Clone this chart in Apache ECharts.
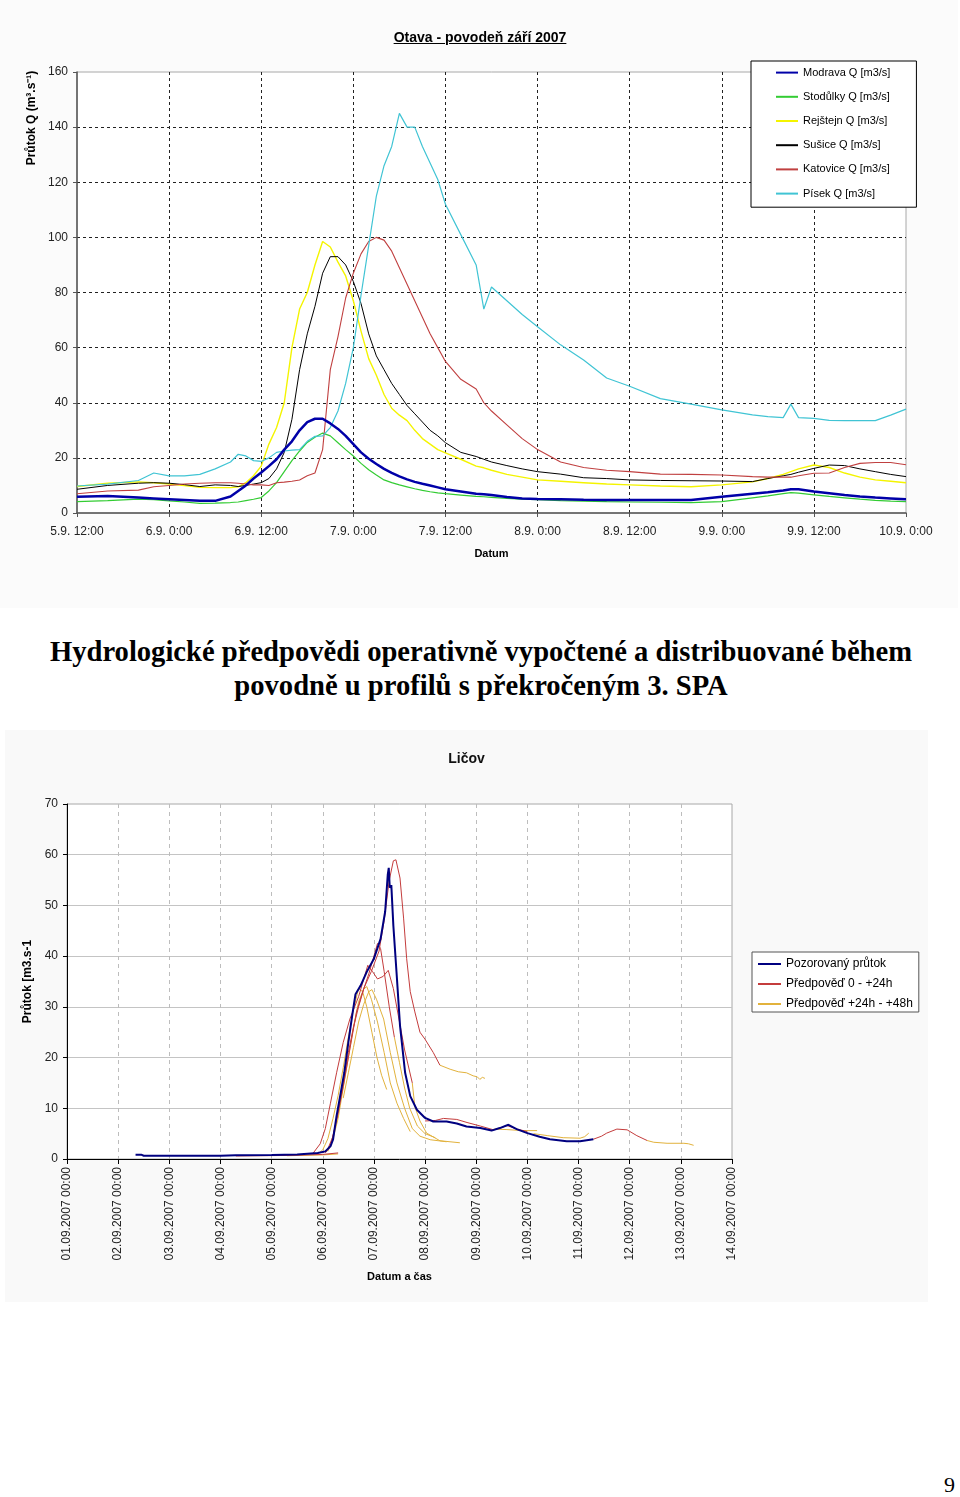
<!DOCTYPE html>
<html><head><meta charset="utf-8">
<script src="https://cdn.jsdelivr.net/npm/echarts@6/dist/echarts.min.js"></script>
<style>
html,body{margin:0;padding:0;background:#fff;width:960px;height:1497px;overflow:hidden;}
#c1{position:absolute;left:0;top:0;width:958px;height:608px;}
#c2{position:absolute;left:5px;top:730px;width:923px;height:572px;}
#t1{position:absolute;left:0;top:29px;width:960px;text-align:center;font:bold 14px Arial,'Liberation Sans',sans-serif;text-decoration:underline;color:#000;}
#head{position:absolute;left:0;top:635px;width:962px;text-align:center;font:bold 28.6px 'Times New Roman','Liberation Serif',serif;line-height:34px;color:#000;}
#pg{position:absolute;left:944px;top:1472px;font:22px 'Times New Roman','Liberation Serif',serif;color:#000;}
</style></head>
<body>
<div id="c1"></div>
<div id="t1">Otava - povodeň září 2007</div>
<div id="head">Hydrologické předpovědi operativně vypočtené a distribuované během<br>povodně u profilů s překročeným 3. SPA</div>
<div id="c2"></div>
<div id="pg">9</div>
<script>
const FONT = "Arial, 'Liberation Sans', sans-serif";

// ---------- Chart 1: Otava (hours from 5.9. 12:00) ----------
const HOURS = [0,4,8,10,12,14,16,18,20,21,22,23,24,25,26,27,28,29,30,31,32,33,34,35,36,37,38,39,40,41,42,43,44,45,46,47,48,50,52,53,54,56,58,60,63,66,69,72,76,80,84,88,90,92,93,94,96,98,100,102,104,106,108];
const X1_LABELS = ['5.9. 12:00','6.9. 0:00','6.9. 12:00','7.9. 0:00','7.9. 12:00','8.9. 0:00','8.9. 12:00','9.9. 0:00','9.9. 12:00','10.9. 0:00'];
const MODRAVA = [5.9,6.2,5.6,5.3,5,4.7,4.4,4.4,6, 8,10,12.5,14.7,17,19.5,23,26,30,33, 34.2,34.2,32.5,30.5,28,25,22,19.7,17.8,16, 14.6,13.3,12.2,11.3,10.6,10,9.3,8.6, 7.8,7,6.8,6.5,5.8,5.3,5.1, 5,4.8,4.7,4.7,4.7,4.7,5.9,7, 7.5,8.2,8.6,8.6,7.8,7.2,6.5,6,5.6,5.3,5];
const STODULKY = [4.1,4.5,5,4.8,4.4,4,3.5,3.6,3.8, 4,4.5,5,5.6,8,11,15,19,22.5,25.6, 27.5,29,28,25.5,23,20.7,18,15.7,13.8,12, 11,10.2,9.5,8.8,8.2,7.7,7.3,7, 6.5,6,5.9,5.7,5.3,5,4.8, 4.5,4.3,4.1,4,3.9,3.8,4.1,5.5, 6.2,7,7.4,7.2,6.6,6,5.5,5,4.6,4.3,4.1];
const REJSTEJN = [9.6,10.8,11.3,11,10.5,10,9.3,9.2,9.2, 9.5,11,13.5,17,25,31,40,60,74,80, 90,98.5,96.5,91,86,77,66,56,50,43, 38,35.5,33.5,30,27,25,23,21.8, 19.5,17,16.4,15.5,14,13,12, 11.5,11,10.5,10.2,9.8,9.5,10.2,11.3, 12.5,14,15,16,17.4,16.5,14.5,13,12,11.5,11];
const SUSICE = [8.6,10,10.8,11,10.8,10.3,9.6,10.2,10, 9.6,10,10.5,11,12.5,16,22,34,52,65, 75,87,93,93,90,84,76,65,57,52, 47,43,39,36,33,30,28,25.5, 22,20.5,19.5,18.5,17.2,16,15, 14.1,12.8,12.5,12,11.8,11.7,11.6,11.4, 12.5,13.5,14,14.8,16.2,17.4,17.2,16,15,14,13.2];
const KATOVICE = [7,8,8.3,9.5,10,10.5,10.8,11,11, 10.8,10.5,10.2,10.2,10,11,11.2,11.5,12,13.5, 14.5,23,52,64,78,87,94,98.5,100,99, 95,89,83,77,71,65,60,55, 48.5,45,40,37,32,27,23, 18.5,16.5,15.5,15,14.1,14,13.8,13.2, 13,13,13,13.5,14.4,14.5,16.5,18,18.3,18.3,17.5];
const PISEK = [9.8,10.5,11.8,14.5,13.5,13.5,14,16,18.5, 21.3,20.7,19,18.7,20,22,22.5,22.8,23,26, 27.8,28,31,37,47,60,79,97,115,126, 133,145,140,140,133,127,121,112, 101,90,74,82,77,72,67.6, 61,55.5,49,46,41.5,39.5,37.4,35.6, 35,34.6,39.5,34.6,34.3,33.6,33.5,33.5,33.5,35.5,37.7];
const STATIONS1 = ['Modrava Q [m3/s]','Stodůlky Q [m3/s]','Rejštejn Q [m3/s]','Sušice Q [m3/s]','Katovice Q [m3/s]','Písek Q [m3/s]'];

// ---------- Chart 2: Ličov (days from 01.09.2007 00:00) ----------
const X2_LABELS = ['01.09.2007 00:00','02.09.2007 00:00','03.09.2007 00:00','04.09.2007 00:00','05.09.2007 00:00','06.09.2007 00:00','07.09.2007 00:00','08.09.2007 00:00','09.09.2007 00:00','10.09.2007 00:00','11.09.2007 00:00','12.09.2007 00:00','13.09.2007 00:00','14.09.2007 00:00'];
const OBS_DAYS = [1.34,1.45,1.5,2,3,3.3,4,4.5,4.9,5.05,5.15,5.2,5.27,5.35,5.42,5.5,5.58,5.64,5.74,5.86,6.0,6.13,6.22,6.27,6.29,6.31,6.34,6.38,6.45,6.51,6.61,6.71,6.84,7.0,7.16,7.42,7.62,7.81,8.08,8.3,8.46,8.63,8.79,9.0,9.24,9.44,9.77,10.03,10.29];
const OBS_Q = [0.85,0.85,0.65,0.65,0.65,0.75,0.8,0.9,1.2,1.5,2.5,3.8,8.5,13,17,23,28.6,32.5,34.2,36.9,39.5,43.4,48.8,56,57.4,53.5,54,46,35.6,26.3,17,12.4,9.7,8.1,7.4,7.4,7,6.4,6.1,5.6,6.1,6.75,5.9,5.1,4.4,3.9,3.5,3.5,3.9];
// forecast runs: [day, Q]
const FC_0_24 = [
  [[3.3,0.6],[4.3,0.7],[5.0,0.9],[5.3,1.2]],
  [[4.8,1.0],[4.95,3],[5.05,6],[5.15,11],[5.27,17],[5.4,23],[5.53,27.6],[5.7,32],[5.88,38.2],[5.97,37],[6.07,35.5],[6.18,36],[6.28,37.2],[6.38,33.6],[6.5,27],[6.6,21.5],[6.75,15]],
  [[5.0,1.2],[5.1,2],[5.2,4.5],[5.3,9],[5.4,15],[5.5,21],[5.6,26],[5.7,30],[5.8,33.5],[5.9,36.5],[6.0,40],[6.07,42.5],[6.13,41.5],[6.2,37],[6.3,30],[6.4,24]],
  [[5.05,1.2],[5.15,2.5],[5.27,7.7],[5.4,14.3],[5.53,21.7],[5.66,29],[5.8,33.6],[5.95,37],[6.1,41],[6.2,47],[6.3,55],[6.38,58.8],[6.43,59],[6.51,55.4],[6.58,47.5],[6.64,39.5],[6.71,33],[6.8,29],[6.9,25],[7.0,23.6],[7.16,21],[7.29,18.5]],
  [[7.0,7.5],[7.2,7.6],[7.36,8.0],[7.62,7.8],[7.82,7.2],[8.08,6.5],[8.34,5.75],[8.5,6.2],[8.6,6.6],[8.8,5.9],[9.0,5.4]],
  [[10.29,3.9],[10.45,4.5],[10.55,5.1],[10.75,5.9],[10.95,5.75],[11.14,4.6],[11.34,3.65]]
];
const FC_24_48 = [
  [[4.3,0.65],[5.0,0.8],[5.3,1.0]],
  [[4.9,1.0],[5.0,1.8],[5.1,4],[5.2,8],[5.3,12.5],[5.4,18],[5.5,24],[5.6,29.5],[5.7,33.6],[5.78,33],[5.86,30],[5.96,25],[6.06,20],[6.15,16.5],[6.25,13.7]],
  [[5.1,1.5],[5.2,4],[5.3,8],[5.4,14],[5.5,20],[5.6,26],[5.7,31],[5.8,33.5],[5.86,34],[5.95,31.5],[6.07,27],[6.2,21],[6.32,15],[6.45,11],[6.58,8],[6.71,5.4]],
  [[5.4,12],[5.5,17],[5.6,22],[5.7,27],[5.8,30.5],[5.9,33],[5.96,33.4],[6.05,31.5],[6.19,27.6],[6.32,21],[6.45,15],[6.6,10],[6.75,6],[6.9,4.5],[7.1,3.8],[7.42,3.4]],
  [[6.75,15],[6.8,10.3],[6.9,7.5],[7.03,5.1],[7.29,3.6],[7.68,3.2]],
  [[6.4,24],[6.5,19],[6.6,14],[6.7,10],[6.85,6.5],[7.0,5],[7.2,4.2]],
  [[7.29,18.5],[7.49,17.7],[7.65,17.2],[7.81,17],[7.94,16.4],[8.02,16.2],[8.07,15.7],[8.12,16.1],[8.17,15.9]],
  [[8.34,5.9],[8.6,5.8],[8.9,5.6],[9.19,5.6]],
  [[9.12,5.0],[9.4,4.6],[9.7,4.2],[10.03,4.1],[10.12,4.4],[10.2,5.1]],
  [[11.34,3.65],[11.47,3.3],[11.73,3.1],[12.06,3.1],[12.15,3.0],[12.25,2.7]]
];
const LEG2 = ['Pozorovaný průtok','Předpověď 0 - +24h','Předpověď +24h - +48h'];

// ---------- render chart 1 ----------
const zip = (xs, ys) => xs.map((x, i) => [x, ys[i]]);
const c1 = echarts.init(document.getElementById('c1'));
const S1 = [MODRAVA, STODULKY, REJSTEJN, SUSICE, KATOVICE, PISEK];
const COL1 = ['#0000a8','#33cc33','#f4f400','#000000','#c04040','#40c4d4'];
const W1 = [2.5,1.2,1.4,1,1.1,1.2];
c1.setOption({
  animation:false,
  backgroundColor:'#fbfbfb',
  textStyle:{fontFamily:FONT},
  grid:{left:77, top:72, width:829, height:441, show:true, backgroundColor:'#fff', borderColor:'#a8a8a8', borderWidth:1},
  xAxis:{type:'value', min:0, max:108, interval:12,
    name:'Datum', nameLocation:'middle', nameGap:35,
    nameTextStyle:{fontWeight:'bold', fontSize:11, color:'#000', fontFamily:FONT},
    axisLine:{show:true, lineStyle:{color:'#555', width:1.5}},
    axisTick:{show:true, length:4, lineStyle:{color:'#555'}},
    axisLabel:{color:'#222', fontSize:12, margin:13, fontFamily:FONT, showMinLabel:true, showMaxLabel:true,
      formatter:v => X1_LABELS[Math.round(v/12)]},
    splitLine:{show:true, showMinLine:false, showMaxLine:false, lineStyle:{color:'#222', type:[3,3], width:1}}},
  yAxis:{type:'value', min:0, max:160, interval:20,
    axisLine:{show:true, lineStyle:{color:'#555', width:1.5}},
    axisTick:{show:true, length:4, lineStyle:{color:'#555'}},
    axisLabel:{color:'#222', fontSize:12, margin:9, fontFamily:FONT},
    splitLine:{show:true, showMinLine:false, showMaxLine:false, lineStyle:{color:'#222', type:[3,3], width:1}}},
  legend:{orient:'vertical', left:751, top:61, padding:[6,26,8,24], itemWidth:22, itemHeight:14, itemGap:13,
    backgroundColor:'#fff', borderColor:'#000', borderWidth:1, borderRadius:0,
    itemStyle:{opacity:0}, textStyle:{fontSize:11, color:'#000', fontFamily:FONT}, data:STATIONS1},
  graphic:[{type:'text', x:32, y:118, rotation:Math.PI/2,
    style:{text:'Průtok Q (m³.s⁻¹)', font:"bold 12px Arial, 'Liberation Sans', sans-serif", fill:'#000', align:'center', verticalAlign:'middle'}}],
  series:S1.map((arr, i) => ({
    name:STATIONS1[i], type:'line', symbol:'none', smooth:false, silent:true,
    data:zip(HOURS, arr), lineStyle:{color:COL1[i], width:W1[i]}, itemStyle:{color:COL1[i]},
    z: i === 0 ? 5 : 3
  }))
});

// ---------- render chart 2 ----------
const c2 = echarts.init(document.getElementById('c2'));
const RED = '#c43c3c', YEL = '#e2b23c', NAVY = '#000080';
const s2 = [];
FC_24_48.forEach(seg => s2.push({name:LEG2[2], type:'line', symbol:'none', silent:true, data:seg, lineStyle:{color:YEL, width:1}, itemStyle:{color:YEL}, z:2}));
FC_0_24.forEach(seg => s2.push({name:LEG2[1], type:'line', symbol:'none', silent:true, data:seg, lineStyle:{color:RED, width:1}, itemStyle:{color:RED}, z:3}));
s2.push({name:LEG2[0], type:'line', symbol:'none', silent:true, data:zip(OBS_DAYS, OBS_Q), lineStyle:{color:NAVY, width:2}, itemStyle:{color:NAVY}, z:5});
c2.setOption({
  animation:false,
  backgroundColor:'#f9f9f9',
  textStyle:{fontFamily:FONT},
  title:{text:'Ličov', left:'center', top:17, textStyle:{fontSize:14, fontWeight:'bold', color:'#111', fontFamily:FONT}},
  grid:{left:62, top:74, width:665, height:355, show:true, backgroundColor:'#fff', borderColor:'#a8a8a8', borderWidth:1},
  xAxis:{type:'value', min:0, max:13, interval:1,
    name:'Datum a čas', nameLocation:'middle', nameGap:112,
    nameTextStyle:{fontWeight:'bold', fontSize:11, color:'#000', fontFamily:FONT},
    axisLine:{show:true, lineStyle:{color:'#000', width:1}},
    axisTick:{show:true, length:5, lineStyle:{color:'#000'}},
    axisLabel:{rotate:90, color:'#222', fontSize:12, margin:8, fontFamily:FONT, showMinLabel:true, showMaxLabel:true,
      formatter:v => X2_LABELS[Math.round(v)]},
    splitLine:{show:true, showMinLine:false, showMaxLine:false, lineStyle:{color:'#bdbdbd', type:[4,4], width:1}}},
  yAxis:{type:'value', min:0, max:70, interval:10,
    name:'Průtok [m3.s-1', nameLocation:'middle', nameGap:31, nameRotate:90,
    nameTextStyle:{fontWeight:'bold', fontSize:12, color:'#000', fontFamily:FONT},
    axisLine:{show:true, lineStyle:{color:'#000', width:1}},
    axisTick:{show:true, length:4, lineStyle:{color:'#000'}},
    axisLabel:{color:'#222', fontSize:12, margin:9, fontFamily:FONT},
    splitLine:{show:true, showMinLine:false, showMaxLine:false, lineStyle:{color:'#c4c4c4', width:1}}},
  legend:{orient:'vertical', left:747, top:222, padding:[6,6,2,5], itemWidth:23, itemHeight:12, itemGap:8,
    backgroundColor:'#fff', borderColor:'#555', borderWidth:1, borderRadius:0,
    itemStyle:{opacity:0}, textStyle:{fontSize:12, color:'#000', fontFamily:FONT}, data:LEG2},
  series:s2
});
</script>
</body></html>
